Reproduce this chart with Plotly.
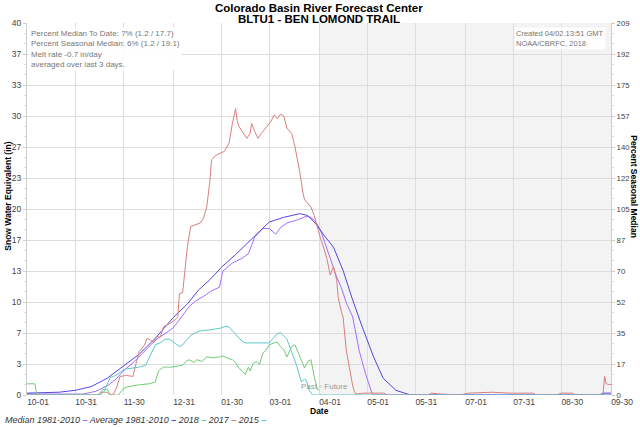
import plotly.graph_objects as go
import pandas as pd

# water year 2018 starts here; series days are counted from it
WY_START = pd.Timestamp("2017-10-01")

tick_dates = ["2017-10-01", "2017-10-31", "2017-11-30", "2017-12-31", "2018-01-30",
              "2018-03-01", "2018-04-01", "2018-05-01", "2018-05-31", "2018-07-01",
              "2018-07-31", "2018-08-30", "2018-09-30"]
tick_labels = ["10-01", "10-31", "11-30", "12-31", "01-30", "03-01", "04-01",
               "05-01", "05-31", "07-01", "07-31", "08-30", "09-30"]

swe_tick_labels = ["0", "3", "7", "10", "13", "17", "20", "23", "27", "30", "33", "37", "40"]
pct_tick_labels = ["0", "17", "35", "52", "70", "87", "105", "122", "140", "157", "175", "192", "209"]
SWE_MAX = 40
PCT_MAX = 209

# Median 1981-2010
median_day = [0, 35, 43, 51, 56, 60, 65, 70, 75, 80, 86, 91, 96, 101, 105, 110, 115, 120,
              122, 128, 134, 138, 142, 147, 151, 153, 155, 158, 162, 168, 174, 177, 180,
              183, 186, 189, 193, 196, 199, 203, 207, 211, 215, 216, 364]
median_swe = [0.1, 0.1, 0.4, 1.1, 1.8, 2.6, 3.3, 4.1, 5.0, 5.9, 6.6, 7.2, 8.3, 9.5, 10.1,
              10.6, 11.2, 11.6, 13.3, 14.2, 14.7, 15.2, 17.0, 17.9, 17.9, 17.6, 17.3, 18.0,
              18.5, 18.8, 19.2, 19.1, 18.6, 17.7, 16.2, 14.5, 12.7, 11.5, 9.9, 8.4, 4.8, 2.3,
              0.2, 0.0, 0.0]

# Average 1981-2010
average_day = [0, 20, 30, 40, 50, 60, 70, 80, 91, 100, 107, 114, 121, 130, 137, 143, 151,
               160, 170, 175, 180, 185, 191, 197, 203, 209, 216, 222, 230, 239, 357, 359, 364]
average_swe = [0.2, 0.3, 0.5, 0.9, 1.8, 3.1, 4.4, 6.1, 8.3, 9.8, 11.3, 12.4, 13.7, 15.1,
               16.3, 17.3, 18.6, 19.1, 19.5, 19.3, 18.4, 17.2, 15.9, 13.4, 10.2, 7.3, 4.1,
               1.8, 0.5, 0.0, 0.0, 0.2, 0.2]

# 2018
wy2018_day = [0, 5, 6, 45, 47, 50, 52, 57, 60, 63, 70, 76, 80, 82, 85, 90, 97, 99, 101,
              104, 106, 109, 112, 116, 120, 122, 126, 128, 130, 132, 134, 136, 138, 139,
              141, 143, 145, 147, 149, 151, 154, 156, 158, 160, 162, 165, 167, 170, 173,
              175, 177, 179, 181, 182]
wy2018_swe = [1.2, 1.2, 0.0, 0.0, 0.6, 0.6, 0.0, 0.0, 0.7, 0.9, 1.1, 1.2, 1.4, 2.6, 3.0,
              3.0, 3.2, 3.6, 3.8, 3.5, 3.8, 3.6, 4.1, 4.0, 4.1, 4.2, 3.9, 3.8, 3.5, 2.9, 2.6,
              2.2, 3.0, 2.6, 3.4, 3.6, 3.3, 4.5, 4.8, 5.4, 5.6, 5.7, 5.2, 4.9, 4.1, 5.2, 5.4,
              4.2, 2.9, 3.6, 3.8, 2.0, 0.6, 0.5]

# 2017
wy2017_day = [0, 44, 46, 50, 52, 54, 56, 58, 62, 66, 68, 70, 73, 75, 77, 79, 81, 83, 85,
              88, 91, 94, 95, 97, 98, 100, 102, 105, 108, 110, 112, 114, 115, 118, 121, 123,
              126, 128, 130, 131, 132, 135, 137, 139, 140, 142, 144, 146, 149, 152, 154, 156,
              158, 160, 162, 165, 167, 170, 172, 173, 175, 177, 179, 181, 183, 185, 187, 189,
              191, 193, 194, 196, 197, 199, 201, 203, 204, 205, 210, 222, 225, 250, 252, 258,
              270, 275, 290, 300, 315, 318, 330, 333, 340, 342, 359, 360, 361, 364]
wy2017_swe = [0.0, 0.0, 0.3, 0.3, 0.0, 0.1, 0.9, 2.0, 2.1, 2.0, 3.4, 4.7, 5.3, 6.1, 5.9,
              5.6, 6.3, 6.2, 7.3, 7.6, 7.9, 8.4, 10.9, 11.0, 12.5, 16.0, 18.1, 18.3, 18.5,
              19.0, 20.2, 23.0, 25.3, 25.8, 26.0, 26.2, 27.1, 29.2, 30.8, 29.5, 28.9, 28.1,
              27.6, 28.1, 29.2, 28.3, 27.6, 28.1, 28.7, 29.4, 30.1, 29.7, 30.2, 30.0, 28.7,
              28.1, 26.7, 24.0, 21.7, 21.0, 20.6, 20.2, 19.3, 17.9, 16.8, 15.8, 14.6, 12.9,
              13.8, 12.4, 10.5, 8.9, 8.4, 4.8, 2.7, 1.0, 0.4, 0.1, 0.2, 0.2, 0.0, 0.0, 0.2,
              0.1, 0.0, 0.2, 0.3, 0.2, 0.2, 0.0, 0.0, 0.2, 0.2, 0.0, 0.0, 2.0, 1.2, 1.1]

# 2015
wy2015_day = [0, 46, 48, 50, 52, 54, 57, 60, 62, 66, 70, 74, 77, 80, 83, 86, 89, 92, 95,
              97, 99, 102, 105, 108, 114, 118, 121, 124, 126, 128, 131, 134, 136, 145, 151,
              153, 156, 158, 160, 162, 165, 168, 171, 173, 174, 176, 178, 364]
wy2015_swe = [0.0, 0.0, 0.4, 1.2, 1.9, 2.0, 2.3, 2.7, 2.8, 2.9, 3.0, 3.2, 4.3, 5.4, 5.6,
              6.0, 6.0, 5.6, 5.2, 5.4, 5.8, 6.4, 6.7, 6.9, 7.0, 7.1, 7.2, 7.4, 7.3, 6.9, 6.3,
              5.8, 5.6, 5.6, 5.6, 6.0, 6.6, 6.7, 6.3, 6.0, 4.6, 3.2, 1.4, 1.7, 1.6, 0.5, 0.0,
              0.0]

series = [
    ("Median 1981-2010", median_day, median_swe, "#a46cff"),
    ("Average 1981-2010", average_day, average_swe, "#5446df"),
    ("2018", wy2018_day, wy2018_swe, "#74cc74"),
    ("2017", wy2017_day, wy2017_swe, "#d97e7e"),
    ("2015", wy2015_day, wy2015_swe, "#5cc8c8"),
]

FONT = "Liberation Sans, Arial, sans-serif"


def to_dates(days):
    return WY_START + pd.to_timedelta(days, unit="D")


fig = go.Figure()

for name, days, swe, color in series:
    fig.add_trace(go.Scatter(
        x=to_dates(days), y=swe,
        mode="lines",
        name=name,
        line=dict(color=color, width=1),
        showlegend=False,
    ))

# invisible trace so the right axis gets drawn
fig.add_trace(go.Scatter(x=[WY_START], y=[0], yaxis="y2", mode="markers",
                         marker=dict(opacity=0), showlegend=False, hoverinfo="skip"))

# future part of the water year is shaded
fig.add_shape(type="rect", xref="x", yref="paper",
              x0="2018-04-01", x1="2018-09-30", y0=0, y1=1,
              fillcolor="#f3f3f3", line=dict(width=0), layer="below")

swe_step = SWE_MAX / (len(swe_tick_labels) - 1)
pct_step = PCT_MAX / (len(pct_tick_labels) - 1)

fig.update_layout(
    width=640, height=427,
    margin=dict(l=27, r=29, t=23, b=32),
    paper_bgcolor="white", plot_bgcolor="white",
    font=dict(family=FONT, size=8, color="#444"),
    xaxis=dict(
        type="date",
        range=["2017-10-01", "2018-09-30"],
        tickvals=tick_dates, ticktext=tick_labels,
        ticklabelshift=11,
        showgrid=True, gridcolor="#dddddd", gridwidth=1,
        ticks="", showline=False, zeroline=False, automargin=False,
        tickfont=dict(size=8.5, color="#444"),
    ),
    yaxis=dict(
        range=[0, SWE_MAX],
        tickvals=[i * swe_step for i in range(len(swe_tick_labels))],
        ticktext=swe_tick_labels,
        showgrid=True, gridcolor="#dddddd", gridwidth=1,
        ticks="outside", ticklen=3, tickcolor="#cccccc",
        showline=True, linecolor="#cccccc", linewidth=1,
        zeroline=False, automargin=False,
        minor=dict(dtick=swe_step / 3, tick0=0, ticks="outside", ticklen=2,
                   tickcolor="#dddddd", showgrid=False),
        tickfont=dict(size=8.5, color="#444"),
    ),
    yaxis2=dict(
        range=[0, PCT_MAX], overlaying="y", side="right",
        tickvals=[i * pct_step for i in range(len(pct_tick_labels))],
        ticktext=pct_tick_labels,
        showgrid=False, zeroline=False, automargin=False,
        ticks="outside", ticklen=3, tickcolor="#cccccc",
        showline=True, linecolor="#cccccc", linewidth=1,
        minor=dict(dtick=pct_step / 3, tick0=0, ticks="outside", ticklen=2,
                   tickcolor="#dddddd"),
        tickfont=dict(size=7.8, color="#444"),
    ),
)

legend_html = "<i>" + " ".join(
    f"{name} <span style='color:{color}'><b>–</b></span>" for name, _, _, color in series
) + "</i>"

annotations = [
    dict(text="<b>Colorado Basin River Forecast Center</b>", x=0.5, y=1.04,
         font=dict(size=11.5, color="black")),
    dict(text="<b>BLTU1 - BEN LOMOND TRAIL</b>", x=0.5, y=1.011,
         font=dict(size=11.5, color="black")),
    dict(text="Percent Median To Date: 7% (1.2 / 17.7)<br>"
              "Percent Seasonal Median: 6% (1.2 / 19.1)<br>"
              "Melt rate -0.7 in/day<br>averaged over last 3 days.",
         x=0.004, y=0.99, xanchor="left", yanchor="top", align="left",
         bgcolor="rgba(255,255,255,0.9)", borderpad=1,
         font=dict(size=8, color="#777")),
    dict(text="Created 04/02.13:51 GMT<br>NOAA/CBRFC, 2018",
         x=0.992, y=0.99, xanchor="right", yanchor="top", align="left",
         bgcolor="rgba(255,255,255,0.9)", borderpad=1,
         font=dict(size=7.5, color="#777")),
    dict(text="Past ◦ Future", xref="x", x="2018-04-01", xshift=5, y=0.024,
         font=dict(size=8, color="#999")),
    dict(text="<b>Date</b>", x=0.5, y=-0.043, font=dict(size=8.5, color="black")),
    dict(text="<b>Snow Water Equivalent (in)</b>", x=-0.033, y=0.535, textangle=-90,
         font=dict(size=8.5, color="black")),
    dict(text="<b>Percent Seasonal Median</b>", x=1.04, y=0.56, textangle=90,
         font=dict(size=8.5, color="black")),
    dict(text=legend_html, x=-0.041, y=-0.066, xanchor="left",
         font=dict(size=9, color="#333")),
]
for a in annotations:
    a.setdefault("xref", "paper")
    a.setdefault("yref", "paper")
    a.setdefault("showarrow", False)
    a.setdefault("xanchor", "center")
    a.setdefault("yanchor", "middle")
    fig.add_annotation(**a)

# drop the browser's default body margin so the figure sits at the page corner
fig.write_html("out.html", config={"displayModeBar": False},
               post_script="document.body.style.margin='0';")
